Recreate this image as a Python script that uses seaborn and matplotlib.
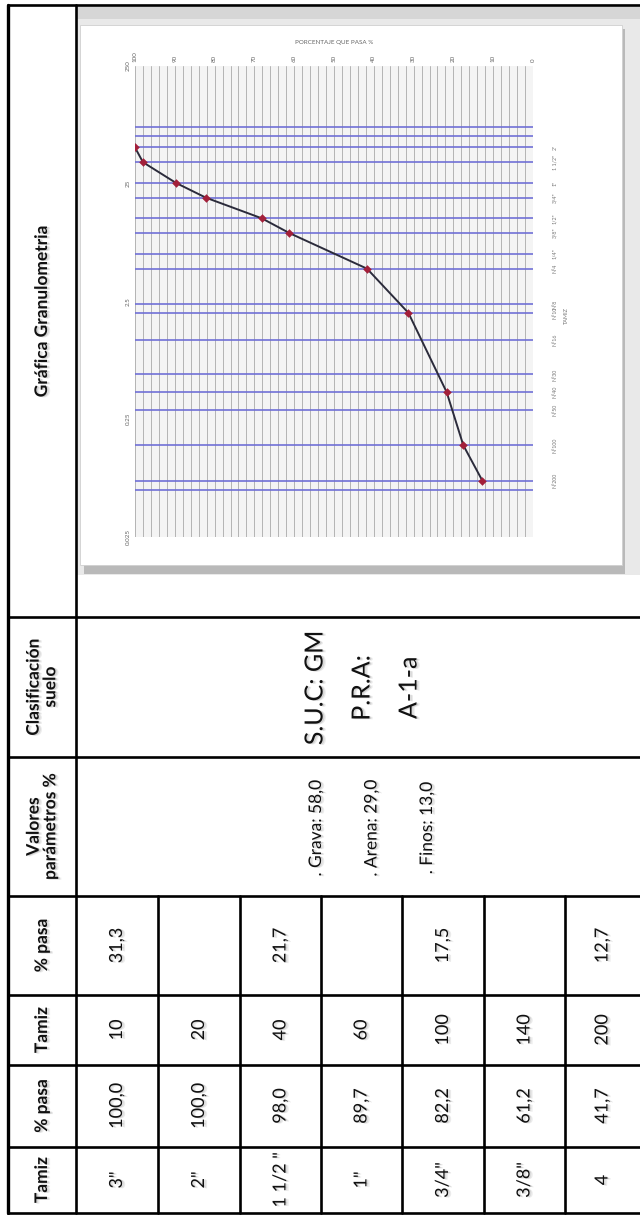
import numpy as np
import pandas as pd
import matplotlib
matplotlib.use("Agg")
import matplotlib.pyplot as plt
import matplotlib.patheffects as pe
from matplotlib.patches import Rectangle
import matplotlib.transforms as mtransforms
import seaborn as sns

# ---------------- data ----------------
headers = ["Gráfica Granulometria", "Clasificación\nsuelo", "Valores\nparámetros %",
           "% pasa", "Tamiz", "% pasa", "Tamiz"]
tamiz_1 = ['3"', '2"', '1 1/2 "', '1"', '3/4"', '3/8"', '4']
pasa_1 = ["100,0", "100,0", "98,0", "89,7", "82,2", "61,2", "41,7"]
tamiz_2 = ["10", "20", "40", "60", "100", "140", "200"]
pasa_2 = ["31,3", "", "21,7", "", "17,5", "", "12,7"]
parametros = [". Grava: 58,0", ". Arena: 29,0", ". Finos: 13,0"]
clasificacion = ["S.U.C: GM", "P.R.A:", "A-1-a"]

curve_size_mm = [50.8, 38.1, 25.4, 19.05, 12.7, 9.525, 4.75, 2.0, 0.425, 0.15, 0.075]
curve_pasa = [100.0, 98.0, 89.7, 82.2, 68.1, 61.2, 41.7, 31.3, 21.7, 17.5, 12.7]

sieve_sizes_mm = [76.2, 63.5, 50.8, 38.1, 25.4, 19.05, 12.7, 9.525, 6.35, 4.75,
                  2.36, 2.0, 1.18, 0.6, 0.425, 0.3, 0.15, 0.075, 0.063]
sieve_names = ['', '', '2"', '1 1/2"', '1"', '3/4"', '1/2"', '3/8"', '1/4"', 'N°4',
               'N°8', 'N°10', 'N°16', 'N°30', 'N°40', 'N°50', 'N°100', 'N°200', '']
pct_ticks = [100, 90, 80, 70, 60, 50, 40, 30, 20, 10, 0]
size_ticks = [250, 25, 2.5, 0.25, 0.025]
size_tick_labels = ["250", "25", "2.5", "0.25", "0.025"]

# ---------------- style ----------------
sns.set_theme(style="white")
plt.rcParams["font.family"] = ["Lato", "DejaVu Sans"]

W, H = 640, 1215
fig = plt.figure(figsize=(W / 100, H / 100), dpi=100)
bg = fig.add_axes([0, 0, 1, 1])
bg.set_xlim(0, W)
bg.set_ylim(H, 0)
bg.axis("off")

shadow = [pe.SimplePatchShadow(offset=(2.2, -0.6), shadow_rgbFace="#b0b0b0", alpha=0.25),
          pe.SimplePatchShadow(offset=(1.2, -0.3), shadow_rgbFace="#909090", alpha=0.3),
          pe.Normal()]

# layout (pixels)
x_left, x_head, x_right = 8, 76, 640
col_edges = [76, 158, 240, 321, 402, 484, 565, 640]
row_edges = [5, 617, 757, 896, 995, 1065, 1147, 1213]

# chart cell background with picture frame
bg.add_patch(Rectangle((77, 7), 563, 568, facecolor="#e9e9e9", edgecolor="none", zorder=0))
bg.add_patch(Rectangle((77, 7), 563, 12, facecolor="#d6d6d6", edgecolor="none", zorder=0))
bg.add_patch(Rectangle((84, 29), 541, 545, facecolor="#b9b9b9", edgecolor="none", zorder=1))
bg.add_patch(Rectangle((80, 25), 542, 540, facecolor="white", edgecolor="#d0d0d0", lw=0.6, zorder=2))

# table lines
lw_t = 1.9
for y in row_edges:
    bg.plot([x_left - 1, x_right], [y, y], color="black", lw=lw_t, solid_capstyle="butt", zorder=5)
bg.plot([x_left, x_left], [row_edges[0], row_edges[-1]], color="black", lw=2.4, zorder=5)
bg.plot([x_head, x_head], [row_edges[0], row_edges[-1]], color="black", lw=lw_t, zorder=5)
for x in col_edges[1:-1]:
    bg.plot([x, x], [row_edges[3], row_edges[-1]], color="black", lw=lw_t, zorder=5)

# header texts
x_hc = 42
for i, lab in enumerate(headers):
    yc = (row_edges[i] + row_edges[i + 1]) / 2
    bg.text(x_hc, yc, lab, rotation=90, ha="center", va="center", fontsize=12.5,
            fontweight="bold", color="#111111", multialignment="center",
            linespacing=1.05, path_effects=shadow, zorder=6)

# body cells
centers = [(col_edges[i] + col_edges[i + 1]) / 2 for i in range(7)]
for vals, r in [(pasa_2, 3), (tamiz_2, 4), (pasa_1, 5), (tamiz_1, 6)]:
    yc = (row_edges[r] + row_edges[r + 1]) / 2
    for xc, v in zip(centers, vals):
        if v:
            bg.text(xc, yc, v, rotation=90, ha="center", va="center", fontsize=13,
                    color="#111111", path_effects=shadow, zorder=6)

for i, t in enumerate(parametros):
    bg.text(316 + i * 55.5, 828, t, rotation=90, ha="center", va="center", fontsize=12.5,
            color="#111111", path_effects=shadow, zorder=6)
for i, t in enumerate(clasificacion):
    bg.text(315 + i * 47, 688, t, rotation=90, ha="center", va="center", fontsize=18,
            color="#111111", path_effects=shadow, zorder=6)

# ---------------- chart ----------------
px0, px1, py0, py1 = 135, 533, 66, 537
ax = fig.add_axes([px0 / W, 1 - py1 / H, (px1 - px0) / W, (py1 - py0) / H])
ax.set_zorder(10)
ax.set_facecolor("#f4f4f4")
ax.set_xlim(100, 0)
ax.set_yscale("log")
ax.set_ylim(0.025, 250)

for v in np.arange(0, 101, 2):
    ax.axvline(v, color="#b4b4b4", lw=0.7, zorder=1)
for s in sieve_sizes_mm:
    ax.axhline(s, color="#6d6dd6", lw=1.3, alpha=0.9, zorder=2)

df = pd.DataFrame({"pasa": curve_pasa, "size": curve_size_mm})
sns.lineplot(data=df, x="pasa", y="size", sort=False, estimator=None, color="#2b2b3b",
             lw=1.4, ax=ax, zorder=4)
sns.scatterplot(data=df, x="pasa", y="size", marker="D", s=16, color="#a3203a",
                edgecolor="#a3203a", ax=ax, zorder=5)

for sp in ax.spines.values():
    sp.set_visible(False)
ax.xaxis.tick_top()
ax.xaxis.set_label_position("top")
ax.set_xticks(pct_ticks)
ax.set_xticklabels([str(v) for v in pct_ticks], rotation=90, fontsize=4.5, color="#666666")
ax.set_yticks(size_ticks)
ax.set_yticklabels(size_tick_labels, rotation=90, fontsize=4.5, color="#666666", va="center")
ax.yaxis.set_minor_locator(matplotlib.ticker.NullLocator())
ax.tick_params(length=0, pad=3)
ax.set_xlabel("PORCENTAJE QUE PASA %", fontsize=4.5, color="#666666", labelpad=5)
ax.set_ylabel("")

trans = mtransforms.blended_transform_factory(ax.transAxes, ax.transData)
for s, n in zip(sieve_sizes_mm, sieve_names):
    if n:
        ax.text(1.055, s, n, transform=trans, rotation=90, fontsize=3.8, color="#777777",
                ha="center", va="center", clip_on=False)
ax.text(1.085, 0.47, "TAMIZ", transform=ax.transAxes, rotation=90, fontsize=4,
        color="#777777", ha="center", va="center")

fig.savefig("out.png", dpi=100)
